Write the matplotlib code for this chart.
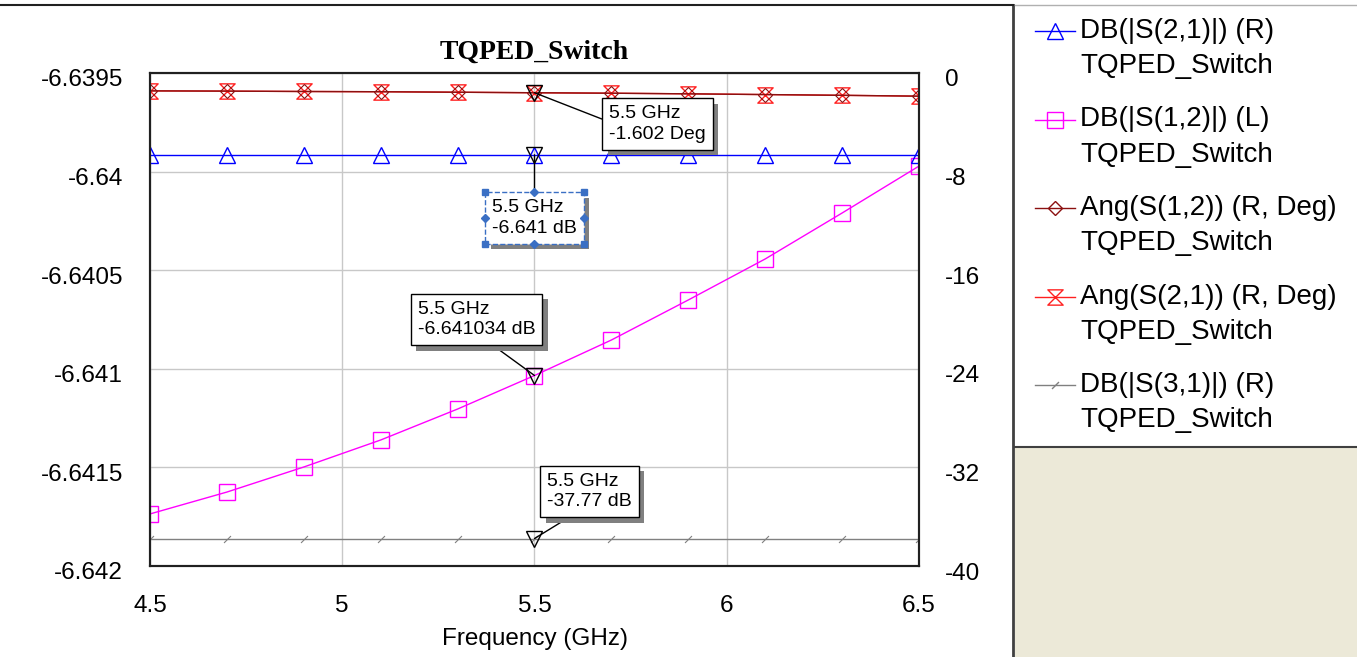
import matplotlib
matplotlib.use("Agg")
import matplotlib.pyplot as plt
import matplotlib.patheffects as pe
import matplotlib.transforms as mtransforms
from matplotlib.path import Path
from matplotlib.lines import Line2D
from matplotlib.patches import Rectangle

freq = [4.5, 4.7, 4.9, 5.1, 5.3, 5.5, 5.7, 5.9, 6.1, 6.3, 6.5]
s21_db = [-6.641] * 11
s12_db = [-6.641736, -6.641625, -6.641498, -6.641361, -6.641204, -6.641034,
          -6.640854, -6.640651, -6.640443, -6.640210, -6.639972]
ang12 = [-1.45, -1.47, -1.50, -1.52, -1.56, -1.602, -1.64, -1.69, -1.75, -1.81, -1.88]
ang21 = [-1.45, -1.47, -1.50, -1.52, -1.56, -1.602, -1.64, -1.69, -1.75, -1.81, -1.88]
s31_db = [-37.77] * 11

left_ticks = [-6.6395, -6.64, -6.6405, -6.641, -6.6415, -6.642]
left_labels = ['-6.6395', '-6.64', '-6.6405', '-6.641', '-6.6415', '-6.642']
right_ticks = [0, -8, -16, -24, -32, -40]
x_ticks = [4.5, 5, 5.5, 6, 6.5]
x_labels = ['4.5', '5', '5.5', '6', '6.5']

legend_names = ['DB(|S(2,1)|) (R)', 'DB(|S(1,2)|) (L)', 'Ang(S(1,2)) (R, Deg)',
                'Ang(S(2,1)) (R, Deg)', 'DB(|S(3,1)|) (R)']

plt.rcParams['font.family'] = ['Liberation Sans', 'DejaVu Sans']
plt.rcParams['axes.unicode_minus'] = False

# custom markers
hourglass = Path([(-1, 1), (1, 1), (-1, -1), (1, -1), (-1, 1)],
                 [Path.MOVETO, Path.LINETO, Path.LINETO, Path.LINETO, Path.CLOSEPOLY])
slash = Path([(-1, -1), (1, 1)], [Path.MOVETO, Path.LINETO])

W, H = 1357, 657
fig = plt.figure(figsize=(W / 100, H / 100), dpi=100)
fig.patch.set_facecolor('white')

ax = fig.add_axes([150 / W, 1 - 566 / H, (919 - 150) / W, (566 - 73) / H])
ax2 = ax.twinx()

ax.set_xlim(4.5, 6.5)
ax.set_ylim(-6.642, -6.6395)
ax2.set_ylim(-40, 0)

ax.grid(True, color='#c8c8c8', lw=1)
ax.set_axisbelow(True)

blue = '#0000ff'
mag = '#ff00ff'
brown = '#8b1010'
red = '#ff2020'
gray = '#808080'

ax.plot(freq, s12_db, color=mag, lw=1, marker='s', ms=11, mfc='none', mec=mag, mew=1)
ax2.plot(freq, s21_db, color=blue, lw=1, marker='^', ms=11, mfc='none', mec=blue, mew=1)
ax2.plot(freq, ang21, color=red, lw=1, marker=hourglass, ms=11, mfc='none', mec=red, mew=1)
ax2.plot(freq, ang12, color=brown, lw=1, marker='D', ms=7, mfc='none', mec=brown, mew=0.8)
ax2.plot(freq, s31_db, color=gray, lw=1, marker=slash, ms=5, mfc='none', mec=gray, mew=0.8)

# marker readouts at 5.5 GHz
i = freq.index(5.5)
ax.plot([freq[i]], [s12_db[i]], marker='v', ms=11, mfc='none', mec='black', mew=1, ls='none')
for yv in (s21_db[i], ang21[i], s31_db[i]):
    ax2.plot([freq[i]], [yv], marker='v', ms=11, mfc='none', mec='black', mew=1, ls='none')

ax.set_xticks(x_ticks)
ax.set_xticklabels(x_labels)
ax.set_yticks(left_ticks)
ax.set_yticklabels(left_labels)
ax2.set_yticks(right_ticks)
ax.tick_params(axis='both', length=0, labelsize=17.5)
ax.tick_params(axis='y', pad=19.5)
ax.tick_params(axis='x', pad=21)
ax2.tick_params(axis='y', length=0, labelsize=17.5, pad=18.5)
for a in (ax, ax2):
    for s in a.spines.values():
        s.set_color('#202020')
        s.set_linewidth(1.5)

# y labels sit a little below their grid lines in the reference
down = mtransforms.ScaledTranslation(0, -5 / 100, fig.dpi_scale_trans)
for lab in ax.get_yticklabels() + ax2.get_yticklabels():
    lab.set_transform(lab.get_transform() + down)

ax.set_xlabel('Frequency (GHz)', fontsize=17.5, labelpad=8)
ax.set_title('TQPED_Switch', fontsize=20, fontweight='bold',
             family=['Liberation Serif', 'DejaVu Serif'], pad=10)

shadow = [pe.withSimplePatchShadow(offset=(4, -4), shadow_rgbFace='#808080', alpha=1)]


def readout(axis, xy, text, off, relpos, xycoords='data', edge='black', ls='-'):
    an = axis.annotate(text, xy=xy, xycoords=xycoords, xytext=off,
                       textcoords='offset pixels', ha='center', va='center',
                       multialignment='left', fontsize=14, linespacing=1.3, zorder=10,
                       bbox=dict(boxstyle='square,pad=0.35', fc='white', ec=edge, lw=1, ls=ls),
                       arrowprops=dict(arrowstyle='-', color='black', lw=1, relpos=relpos,
                                       shrinkA=0, shrinkB=0))
    an.get_bbox_patch().set_path_effects(shadow)
    return an


readout(ax2, (5.5, ang21[i]), '5.5 GHz\n-1.602 Deg', (123, -31), (0, 0.55))
sel = readout(ax2, (5.5, s21_db[i]), '5.5 GHz\n-6.641 dB', (0, -63), (0.5, 1),
              edge='#3a6fc4', ls='--')
readout(ax2, (5.5, s12_db[i]), '5.5 GHz\n-6.641034 dB', (-58, 56), (0.56, 0),
        xycoords=ax.transData)
readout(ax2, (5.5, s31_db[i]), '5.5 GHz\n-37.77 dB', (55, 47), (0.39, 0))

# legend panel on the right
fig.add_artist(Rectangle((1015 / W, 0), (W - 1015) / W, 1 - 447 / H,
                         transform=fig.transFigure, fc='#ece9d8', ec='none'))
fig.add_artist(Line2D([1013 / W, 1013 / W], [0, 1 - 5 / H], transform=fig.transFigure,
                      color='#404040', lw=2))
fig.add_artist(Line2D([1015 / W, 1], [1 - 447 / H, 1 - 447 / H], transform=fig.transFigure,
                      color='#404040', lw=1.5))
fig.add_artist(Line2D([0, 1013 / W], [1 - 5 / H, 1 - 5 / H], transform=fig.transFigure,
                      color='#202020', lw=1.5))
fig.add_artist(Line2D([1015 / W, 1], [1 - 5 / H, 1 - 5 / H], transform=fig.transFigure,
                      color='#b0b0b0', lw=1))

styles = [
    dict(color=blue, marker='^', ms=11, mec=blue),
    dict(color=mag, marker='s', ms=11, mec=mag),
    dict(color=brown, marker='D', ms=7, mec=brown),
    dict(color=red, marker=hourglass, ms=11, mec=red),
    dict(color=gray, marker=slash, ms=5, mec=gray),
]
for k, (name, st) in enumerate(zip(legend_names, styles)):
    y = 31 + 88.5 * k
    fig.add_artist(Line2D([1035 / W, 1075 / W], [1 - y / H, 1 - y / H],
                          transform=fig.transFigure, lw=1, mfc='none', mew=1,
                          markevery=[], **st))
    fig.add_artist(Line2D([1055 / W], [1 - y / H], transform=fig.transFigure,
                          ls='none', mfc='none', mew=1, **{kk: v for kk, v in st.items() if kk != 'color'}))
    fig.text(1080 / W, 1 - y / H, name, fontsize=20, va='center', ha='left')
    fig.text(1080 / W, 1 - (y + 35) / H, 'TQPED_Switch', fontsize=20, va='center', ha='left')

# selection handles on the selected readout box
fig.canvas.draw()
bb = sel.get_bbox_patch().get_window_extent()
cx, cy = (bb.x0 + bb.x1) / 2, (bb.y0 + bb.y1) / 2
inv = fig.transFigure.inverted()
for (px, py, m) in [(bb.x0, bb.y0, 's'), (bb.x1, bb.y0, 's'), (bb.x0, bb.y1, 's'), (bb.x1, bb.y1, 's'),
                    (cx, bb.y0, 'D'), (cx, bb.y1, 'D'), (bb.x0, cy, 'D'), (bb.x1, cy, 'D')]:
    fx, fy = inv.transform((px, py))
    fig.add_artist(Line2D([fx], [fy], transform=fig.transFigure, marker=m, ms=4.5,
                          color='#3a6fc4', ls='none', zorder=20))

fig.savefig('out.png', dpi=100)
